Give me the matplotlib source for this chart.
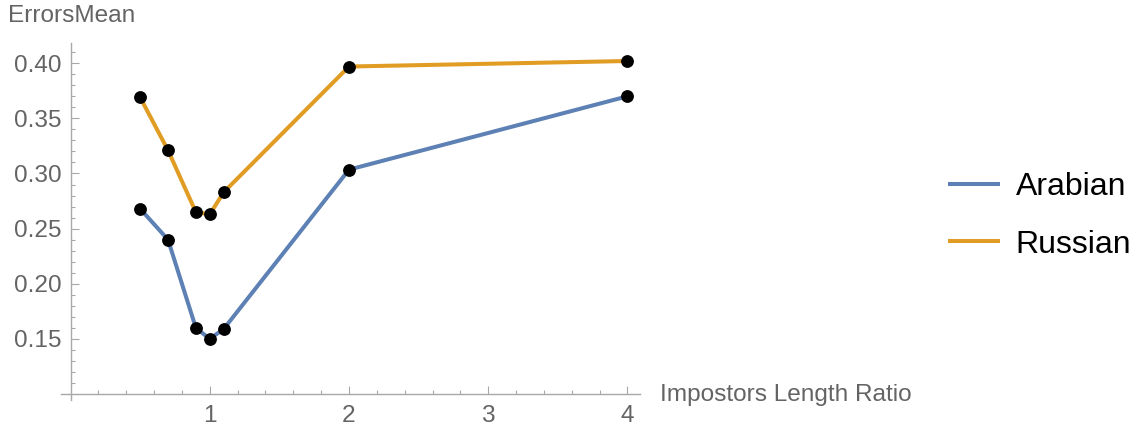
import matplotlib
matplotlib.use("Agg")
import matplotlib.pyplot as plt
from matplotlib.ticker import FixedLocator
from matplotlib.lines import Line2D

# Data
ratios = [0.5, 0.7, 0.9, 1.0, 1.1, 2.0, 4.0]
arabian = [0.268, 0.240, 0.160, 0.150, 0.159, 0.3035, 0.370]
russian = [0.369, 0.321, 0.265, 0.263, 0.283, 0.397, 0.402]
series_names = ["Arabian", "Russian"]
x_ticks = [1, 2, 3, 4]
y_ticks = [0.15, 0.20, 0.25, 0.30, 0.35, 0.40]

blue = "#5E81B5"
orange = "#E19C24"
gray_text = "#646464"
axis_gray = "#a8a8a8"

plt.rcParams['font.family'] = ['Liberation Sans', 'DejaVu Sans']

fig = plt.figure(figsize=(11.39, 4.29), dpi=100)
W, H = 1139, 429
left_px, right_px, top_px, bottom_px = 60.8, 640, 42.7, 400
ax = fig.add_axes([left_px / W, (H - bottom_px) / H, (right_px - left_px) / W, (bottom_px - top_px) / H])

ax.plot(ratios, arabian, color=blue, lw=2.9, zorder=2)
ax.plot(ratios, russian, color=orange, lw=2.9, zorder=2)
ax.plot(ratios, arabian, 'o', color='black', ms=8.2, zorder=3)
ax.plot(ratios, russian, 'o', color='black', ms=8.2, zorder=3)

ax.set_xlim(-0.07, 4.09)
ax.set_ylim(0.0946, 0.4186)

for s in ['top', 'right']:
    ax.spines[s].set_visible(False)
ax.spines['left'].set_position(('data', 0))
ax.spines['bottom'].set_position(('data', 0.1))
for s in ['left', 'bottom']:
    ax.spines[s].set_color(axis_gray)
    ax.spines[s].set_linewidth(1.0)

ax.xaxis.set_major_locator(FixedLocator(x_ticks))
ax.xaxis.set_minor_locator(FixedLocator([v / 5 for v in range(1, 21) if v % 5 != 0]))
ax.yaxis.set_major_locator(FixedLocator(y_ticks))
ax.yaxis.set_minor_locator(FixedLocator([v / 100 for v in range(11, 42) if v % 5 != 0]))
ax.set_xticklabels([str(v) for v in x_ticks])
ax.set_yticklabels([f"{v:.2f}" for v in y_ticks])

ax.tick_params(which='both', direction='in', color=axis_gray, labelcolor=gray_text,
               labelsize=17.6, width=0.8)
ax.tick_params(which='major', length=5.5)
ax.tick_params(which='minor', length=3)
ax.tick_params(axis='x', pad=8)
ax.tick_params(axis='y', pad=6.5)

fig.text(8 / W, (H - 16) / H, "ErrorsMean", color=gray_text, fontsize=17.6, ha='left', va='center')
fig.text(660 / W, (H - 395) / H, "Impostors Length Ratio", color=gray_text, fontsize=17.6,
         ha='left', va='center')

handles = [Line2D([], [], color=blue, lw=2.9), Line2D([], [], color=orange, lw=2.9)]
fig.legend(handles, series_names, loc='center left', bbox_to_anchor=(950 / W, (H - 216) / H),
           frameon=False, fontsize=23, handlelength=1.5, handletextpad=0.56,
           labelspacing=0.85, borderpad=0, borderaxespad=0)

fig.savefig("out.png", dpi=100)
